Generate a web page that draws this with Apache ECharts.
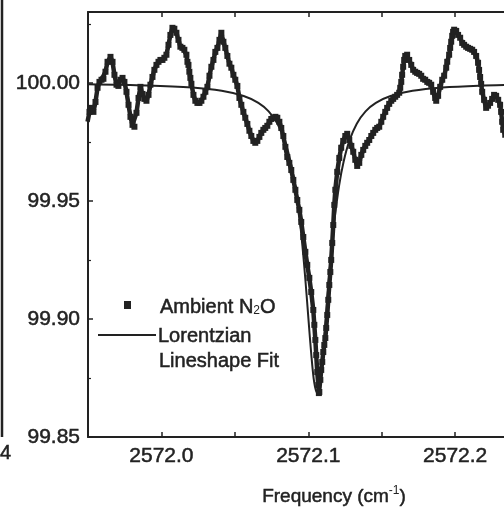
<!DOCTYPE html>
<html>
<head>
<meta charset="utf-8">
<script src="https://cdn.jsdelivr.net/npm/echarts@6/dist/echarts.min.js"></script>
<style>
html,body{margin:0;padding:0;background:#fff;}
#c{width:504px;height:507px;}
</style>
</head>
<body>
<div id="c"></div>
<script>
// Measured trace (Ambient N2O), frequency in cm^-1 and transmission in %
var measuredFreq = [
2571.9497,2571.9510,2571.9524,2571.9537,2571.9551,2571.9565,2571.9578,2571.9592,2571.9605,2571.9619,
2571.9633,2571.9653,2571.9667,2571.9680,2571.9694,2571.9707,2571.9721,2571.9735,2571.9748,2571.9762,
2571.9776,2571.9789,2571.9803,2571.9816,2571.9830,2571.9844,2571.9857,2571.9871,2571.9884,2571.9898,
2571.9912,2571.9925,2571.9939,2571.9952,2571.9966,2571.9980,2571.9993,2572.0007,2572.0020,2572.0034,
2572.0048,2572.0061,2572.0075,2572.0088,2572.0102,2572.0116,2572.0129,2572.0143,2572.0156,2572.0170,
2572.0177,2572.0184,2572.0190,2572.0197,2572.0204,2572.0218,2572.0231,2572.0245,2572.0259,2572.0272,
2572.0286,2572.0299,2572.0313,2572.0327,2572.0340,2572.0354,2572.0367,2572.0381,2572.0395,2572.0408,
2572.0422,2572.0435,2572.0449,2572.0463,2572.0476,2572.0490,2572.0503,2572.0517,2572.0531,2572.0544,
2572.0558,2572.0571,2572.0585,2572.0599,2572.0612,2572.0626,2572.0639,2572.0653,2572.0667,2572.0680,
2572.0694,2572.0707,2572.0721,2572.0735,2572.0748,2572.0762,2572.0776,2572.0789,2572.0803,2572.0816,
2572.0830,2572.0844,2572.0857,2572.0871,2572.0884,2572.0898,2572.0912,2572.0925,2572.0939,2572.0952,
2572.0966,2572.0980,2572.0993,2572.1007,2572.1020,2572.1034,2572.1041,2572.1048,2572.1054,2572.1061,
2572.1068,2572.1072,2572.1075,2572.1082,2572.1088,2572.1095,2572.1102,2572.1109,2572.1116,2572.1122,
2572.1129,2572.1136,2572.1143,2572.1150,2572.1156,2572.1163,2572.1170,2572.1177,2572.1184,2572.1197,
2572.1211,2572.1224,2572.1238,2572.1252,2572.1265,2572.1279,2572.1293,2572.1306,2572.1320,2572.1333,
2572.1347,2572.1361,2572.1374,2572.1388,2572.1401,2572.1415,2572.1429,2572.1442,2572.1456,2572.1469,
2572.1483,2572.1497,2572.1510,2572.1524,2572.1537,2572.1551,2572.1565,2572.1578,2572.1592,2572.1605,
2572.1619,2572.1626,2572.1633,2572.1639,2572.1646,2572.1653,2572.1660,2572.1673,2572.1687,2572.1701,
2572.1714,2572.1728,2572.1741,2572.1755,2572.1769,2572.1782,2572.1796,2572.1810,2572.1823,2572.1837,
2572.1850,2572.1864,2572.1871,2572.1884,2572.1898,2572.1912,2572.1925,2572.1939,2572.1946,2572.1959,
2572.1966,2572.1973,2572.1980,2572.1986,2572.1993,2572.2007,2572.2020,2572.2034,2572.2048,2572.2061,
2572.2075,2572.2088,2572.2102,2572.2116,2572.2129,2572.2143,2572.2156,2572.2163,2572.2170,2572.2177,
2572.2184,2572.2197,2572.2211,2572.2224,2572.2238,2572.2252,2572.2265,2572.2279,2572.2293,2572.2306,
2572.2313,2572.2320,2572.2327,2572.2341
];
var measuredTrans = [
99.9835,99.9877,99.9894,99.9877,99.9919,99.9979,100.0004,100.0013,100.0017,100.0047,
100.0089,100.0110,100.0089,100.0034,99.9992,99.9987,100.0013,100.0021,100.0004,99.9962,
99.9907,99.9856,99.9822,99.9814,99.9873,99.9936,99.9983,99.9953,99.9932,99.9924,
99.9949,99.9992,100.0025,100.0055,100.0076,100.0089,100.0097,100.0097,100.0106,100.0119,
100.0161,100.0203,100.0233,100.0229,100.0212,100.0182,100.0153,100.0148,100.0140,100.0119,
100.0089,100.0076,100.0047,100.0021,99.9996,99.9949,99.9924,99.9915,99.9915,99.9924,
99.9941,99.9962,99.9983,100.0030,100.0068,100.0097,100.0131,100.0148,100.0182,100.0212,
100.0174,100.0148,100.0114,100.0081,100.0064,100.0034,100.0013,99.9987,99.9936,99.9907,
99.9877,99.9852,99.9826,99.9797,99.9775,99.9754,99.9746,99.9754,99.9771,99.9788,
99.9801,99.9809,99.9818,99.9835,99.9847,99.9852,99.9856,99.9852,99.9835,99.9809,
99.9775,99.9729,99.9686,99.9661,99.9631,99.9589,99.9547,99.9504,99.9462,99.9411,
99.9347,99.9284,99.9229,99.9174,99.9114,99.9038,99.8975,99.8911,99.8847,99.8775,
99.8720,99.8686,99.8691,99.8742,99.8784,99.8818,99.8860,99.8890,99.8919,99.8962,
99.9017,99.9081,99.9144,99.9199,99.9250,99.9322,99.9398,99.9483,99.9547,99.9623,
99.9682,99.9725,99.9754,99.9775,99.9784,99.9758,99.9733,99.9708,99.9674,99.9648,
99.9661,99.9695,99.9716,99.9733,99.9746,99.9758,99.9775,99.9788,99.9801,99.9809,
99.9814,99.9835,99.9856,99.9877,99.9894,99.9911,99.9924,99.9932,99.9941,99.9949,
99.9958,99.9979,100.0004,100.0034,100.0068,100.0097,100.0114,100.0119,100.0097,100.0076,
100.0055,100.0047,100.0042,100.0038,100.0030,100.0017,100.0013,100.0004,100.0000,99.9992,
99.9962,99.9936,99.9924,99.9945,99.9983,100.0013,100.0030,100.0064,100.0089,100.0119,
100.0148,100.0174,100.0199,100.0216,100.0225,100.0220,100.0203,100.0191,100.0169,100.0161,
100.0153,100.0148,100.0144,100.0140,100.0131,100.0114,100.0085,100.0055,100.0025,99.9996,
99.9962,99.9928,99.9894,99.9903,99.9915,99.9932,99.9949,99.9945,99.9928,99.9907,
99.9877,99.9835,99.9801,99.9780
];
// Lorentzian lineshape fit
var fitFreq = [
2571.950,2571.990,2572.021,2572.041,2572.056,2572.066,2572.073,2572.079,2572.084,2572.088,
2572.091,2572.094,2572.096,2572.098,2572.100,2572.102,2572.104,2572.106,2572.108,2572.110,
2572.112,2572.114,2572.116,2572.118,2572.121,2572.124,2572.128,2572.133,2572.139,2572.146,
2572.156,2572.171,2572.191,2572.216,2572.250
];
var fitTrans = [
99.9994,99.9989,99.9980,99.9966,99.9944,99.9915,99.9879,99.9827,99.9755,99.9665,
99.9566,99.9428,99.9309,99.9167,99.9008,99.8852,99.8732,99.8686,99.8732,99.8852,
99.9008,99.9167,99.9309,99.9428,99.9566,99.9665,99.9755,99.9827,99.9879,99.9915,
99.9944,99.9966,99.9980,99.9988,99.9993
];
var xRange = [2571.95, 2572.285];
var yRange = [99.85, 100.03];
var tickStep = 0.05;
var xTitle = 'Frequency (cm';
var xTitleSup = '-1';
var legendMeasured = ['Ambient N', '2', 'O'];
var legendFit = ['Lorentzian', 'Lineshape Fit'];

function zip(a, b) { var out = []; for (var i = 0; i < a.length; i++) out.push([a[i], b[i]]); return out; }

var INK = '#222222';
var FONT = '"Liberation Sans", Arial, sans-serif';
var BOLDEN = {textBorderColor: INK, textBorderWidth: 0.5};

var chart = echarts.init(document.getElementById('c'), null, {renderer: 'canvas'});
function isMultiple(v, step) { var r = v / step; return Math.abs(r - Math.round(r)) < 1e-6; }

var baseAxisX = {
  type: 'value', min: xRange[0], max: xRange[1], interval: tickStep,
  axisLine: {show: true, lineStyle: {color: INK, width: 2}},
  axisTick: {show: true, inside: true, length: 5, lineStyle: {color: INK, width: 1.5}},
  splitLine: {show: false}
};

var option = {
  animation: false,
  backgroundColor: '#ffffff',
  grid: {left: 88, top: 12, width: 492, height: 425, containLabel: false, outerBoundsMode: 'none'},
  xAxis: [
    Object.assign({}, baseAxisX, {
      position: 'bottom',
      axisLabel: Object.assign({
        show: true, margin: 9, color: INK, fontSize: 21, fontFamily: FONT,
        showMinLabel: true, showMaxLabel: false,
        formatter: function (v) { return isMultiple(v, 0.1) ? v.toFixed(1) : ''; }
      }, BOLDEN),
      name: '{a|' + xTitle + '}{s|' + xTitleSup + '}{a|)}',
      nameLocation: 'middle', nameGap: 48,
      nameTextStyle: {
        rich: {
          a: Object.assign({fontSize: 19, color: INK, fontFamily: FONT, lineHeight: 24}, BOLDEN),
          s: {fontSize: 12, color: INK, fontFamily: FONT, verticalAlign: 'top', lineHeight: 24, padding: [0, 0, 8, 0]}
        }
      }
    }),
    Object.assign({}, baseAxisX, {
      position: 'top',
      axisLabel: {show: false}
    })
  ],
  yAxis: [{
    type: 'value', min: yRange[0], max: yRange[1], interval: tickStep,
    axisLine: {show: true, lineStyle: {color: INK, width: 2}},
    axisTick: {show: true, inside: true, length: 5, lineStyle: {color: INK, width: 1.5}},
    minorTick: {show: true, splitNumber: 2, length: 3, lineStyle: {color: INK, width: 1.2}},
    splitLine: {show: false},
    axisLabel: Object.assign({
      show: true, margin: 8, color: INK, fontSize: 21, fontFamily: FONT,
      formatter: function (v) { return isMultiple(v, tickStep) ? v.toFixed(2) : ''; }
    }, BOLDEN)
  }],
  series: [
    {
      name: 'Ambient N2O', type: 'line', data: zip(measuredFreq, measuredTrans),
      showSymbol: true, symbol: 'rect', symbolSize: 6,
      itemStyle: {color: INK},
      lineStyle: {color: INK, width: 4.5},
      z: 2
    },
    {
      name: 'Lorentzian Lineshape Fit', type: 'line', data: zip(fitFreq, fitTrans),
      showSymbol: false, smooth: 0.3,
      lineStyle: {color: INK, width: 2},
      z: 3
    }
  ],
  graphic: [
    {type: 'rect', shape: {x: 124, y: 301, width: 7, height: 8}, style: {fill: INK}},
    {type: 'text', x: 160, y: 305, style: {
      text: '{a|' + legendMeasured[0] + '}{b|' + legendMeasured[1] + '}{a|' + legendMeasured[2] + '}',
      verticalAlign: 'middle',
      rich: {
        a: {fontSize: 20, fill: INK, fontFamily: FONT, lineHeight: 24, verticalAlign: 'bottom', stroke: INK, lineWidth: 0.5},
        b: {fontSize: 12, fill: INK, fontFamily: FONT, lineHeight: 24, verticalAlign: 'bottom', padding: [10, 0, 0, 0]}
      }
    }},
    {type: 'line', shape: {x1: 98, y1: 335, x2: 156, y2: 335}, style: {stroke: INK, lineWidth: 2}},
    {type: 'text', x: 158, y: 336, style: {text: legendFit[0], fontSize: 20, fill: INK, stroke: INK, lineWidth: 0.5, fontFamily: FONT, verticalAlign: 'middle'}},
    {type: 'text', x: 159, y: 361, style: {text: legendFit[1], fontSize: 20, fill: INK, stroke: INK, lineWidth: 0.5, fontFamily: FONT, verticalAlign: 'middle'}},
    {type: 'line', shape: {x1: 2, y1: 0, x2: 2, y2: 437}, style: {stroke: INK, lineWidth: 2.5}},
    {type: 'text', x: 0, y: 453, style: {text: '4', fontSize: 20, fill: INK, stroke: INK, lineWidth: 0.5, fontFamily: FONT, verticalAlign: 'middle'}}
  ]
};
chart.setOption(option);
</script>
</body>
</html>
